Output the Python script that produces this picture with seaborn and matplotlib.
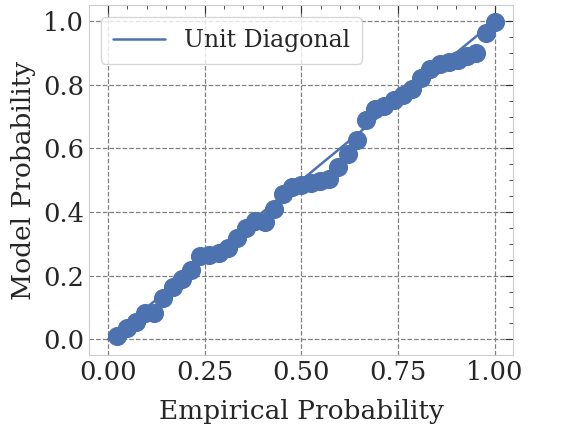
import numpy as np
import matplotlib
matplotlib.use("Agg")
import matplotlib.pyplot as plt
import seaborn as sns
import pandas as pd

# punti del PP-plot (42 quantili)
empirical = np.arange(1, 43) / 42
model = [0.010, 0.035, 0.055, 0.084, 0.084, 0.131, 0.163, 0.188, 0.218, 0.261,
         0.265, 0.270, 0.286, 0.317, 0.350, 0.371, 0.369, 0.408, 0.455, 0.479,
         0.486, 0.490, 0.497, 0.505, 0.542, 0.581, 0.626, 0.690, 0.725, 0.732,
         0.753, 0.767, 0.788, 0.822, 0.848, 0.864, 0.871, 0.877, 0.889, 0.901,
         0.963, 0.997]
diag = [0, 1]

df = pd.DataFrame({"emp": empirical, "mod": model})

sns.set_style("whitegrid")
plt.rcParams["font.family"] = ["DejaVu Serif"]

fig = plt.figure(figsize=(5.79, 4.3), dpi=100)
ax = fig.add_axes([0.154, 0.174, 0.732, 0.814])

color = sns.color_palette("deep")[0]
ax.plot(diag, diag, color=color, lw=1.8, label="Unit Diagonal")
sns.scatterplot(x="emp", y="mod", data=df, ax=ax, color=color, s=190,
                edgecolor=color, linewidth=0, zorder=3)

ax.set_xlim(-0.049, 1.047)
ax.set_ylim(-0.05, 1.05)
ax.set_xticks([0, 0.25, 0.5, 0.75, 1.0])
ax.set_yticks([0, 0.2, 0.4, 0.6, 0.8, 1.0])
ax.set_xticklabels(["0.00", "0.25", "0.50", "0.75", "1.00"])
ax.set_yticklabels(["0.0", "0.2", "0.4", "0.6", "0.8", "1.0"])
ax.minorticks_on()
ax.tick_params(which="both", direction="in", bottom=False, left=False,
               top=True, right=True, colors="#333333", labelsize=18.5)
ax.tick_params(which="major", length=6)
ax.tick_params(which="minor", length=3)
ax.tick_params(axis="both", labelcolor="#262626")
ax.grid(True, which="major", linestyle="--", color="#808080", lw=0.9)
ax.grid(False, which="minor")
for s in ax.spines.values():
    s.set_color("#cccccc")

ax.set_xlabel("Empirical Probability", fontsize=19, color="#262626", labelpad=10)
ax.set_ylabel("Model Probability", fontsize=19, color="#262626", labelpad=5)
ax.legend(loc="upper left", fontsize=17, frameon=True, edgecolor="#cccccc",
          handlelength=2.2, borderpad=0.5)

fig.savefig("out.png", dpi=100)
